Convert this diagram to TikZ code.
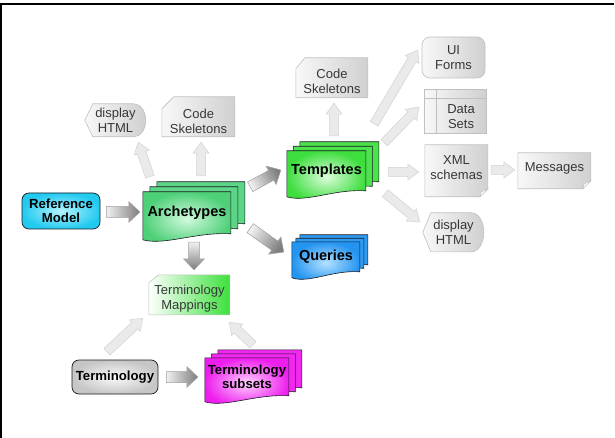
\documentclass[tikz,border=0pt]{standalone}
\usepackage{fontspec}
\setmainfont{Liberation Sans}
\usetikzlibrary{calc}
\pgfdeclarelayer{background}
\pgfsetlayers{background,main}

\definecolor{inkdark}{RGB}{25,25,35}
\definecolor{labelgray}{RGB}{55,55,55}
\definecolor{lightL}{RGB}{248,248,248}
\definecolor{lightR}{RGB}{208,208,208}
\definecolor{lightedge}{RGB}{192,192,192}
\definecolor{larrowfill}{RGB}{234,234,234}
\definecolor{larrowedge}{RGB}{210,210,210}
\definecolor{sarrowtail}{RGB}{240,240,240}
\definecolor{sarrowhead}{RGB}{125,125,125}
\definecolor{sarrowedge}{RGB}{160,160,160}
\definecolor{refin}{RGB}{180,244,255}
\definecolor{refout}{RGB}{35,202,240}
\definecolor{termin}{RGB}{250,250,250}
\definecolor{termout}{RGB}{198,198,198}
\definecolor{archin}{RGB}{210,250,222}
\definecolor{archout}{RGB}{78,208,120}
\definecolor{archback}{RGB}{92,214,134}
\definecolor{tmplin}{RGB}{222,253,222}
\definecolor{tmplout}{RGB}{62,222,62}
\definecolor{tmplback}{RGB}{76,226,76}
\definecolor{qryin}{RGB}{180,225,255}
\definecolor{qryout}{RGB}{35,148,240}
\definecolor{qryback}{RGB}{45,155,242}
\definecolor{tsubin}{RGB}{255,210,255}
\definecolor{tsubout}{RGB}{238,30,238}
\definecolor{tsubback}{RGB}{240,40,240}
\definecolor{tmapR}{RGB}{60,225,60}

\tikzset{
  box/.style 2 args={inner sep=0pt, align=center, minimum width=#1pt, minimum height=#2pt},
  plainlbl/.style={font=\fontsize{13}{15}\selectfont, text=labelgray},
  boldlbl/.style={font=\fontsize{13.2}{14}\selectfont\bfseries, text=black},
  biglbl/.style={font=\fontsize{14.5}{16}\selectfont\bfseries, text=black},
  lightfill/.style={draw=lightedge, line width=0.6pt, left color=lightL, right color=lightR},
  stackedge/.style={draw=inkdark, line width=0.6pt},
  keybox/.style={draw=inkdark, line width=0.7pt, rounded corners=7pt},
  % block arrow between two points: half body width, half head width, head length
  blockarrow/.style n args={3}{to path={
    let \p1=(\tikztostart), \p2=(\tikztotarget),
        \n1={atan2(\y2-\y1,\x2-\x1)},
        \n2={veclen(\x2-\x1,\y2-\y1)-#3}
    in ($(\p1)+(\n1+90:#1)$) -- ($(\p1)+(\n1:\n2)+(\n1+90:#1)$)
    -- ($(\p1)+(\n1:\n2)+(\n1+90:#2)$) -- (\p2)
    -- ($(\p1)+(\n1:\n2)+(\n1-90:#2)$) -- ($(\p1)+(\n1:\n2)+(\n1-90:#1)$)
    -- ($(\p1)+(\n1-90:#1)$) -- cycle}},
  lightarrow/.style={blockarrow={4.5pt}{8pt}{11pt}, draw=larrowedge, fill=larrowfill, line width=0.5pt},
  strongarrow/.style={blockarrow={5.5pt}{10.5pt}{11pt}, draw=sarrowedge, line width=0.5pt,
    top color=sarrowtail, bottom color=sarrowhead, shading angle=#1},
}

% stacked document: node, width, body height, dx, dy, back fill, front colours
\newcommand\docstack[7]{%
  \begin{scope}[shift={(#1.north west)}]
    \foreach \k in {2,1}{%
      \path[stackedge, fill=#6, shift={({\k*#4},{-\k*#5})}]
        (0,0) -- (#2,0) -- (#2,#3) .. controls ({0.6*#2},{#3-2}) and ({0.25*#2},{#3+12}) .. (0,{#3+6}) -- cycle;
    }
    \path[stackedge, #7]
      (0,0) -- (#2,0) -- (#2,#3) .. controls ({0.6*#2},{#3-2}) and ({0.25*#2},{#3+12}) .. (0,{#3+6}) -- cycle;
  \end{scope}}

% card with cut top-left corner: node, width, height, top extension, cut x, cut y, fill style
\newcommand\cutcard[7]{%
  \begin{scope}[shift={(#1.north west)}]
    \path[#7] (#5,-#4) -- (#2,-#4) -- (#2,#3) -- (0,#3) -- (0,{-#4+#6}) -- cycle;
  \end{scope}}

% display shape: node, width, height
\newcommand\displayshape[3]{%
  \begin{scope}[shift={(#1.north west)}]
    \path[lightfill] (0,{#3/2}) -- (8,0) -- ({#2-12},0)
      .. controls ({#2-5.4},0) and (#2,{0.224*#3}) .. (#2,{#3/2})
      .. controls (#2,{0.776*#3}) and ({#2-5.4},#3) .. ({#2-12},#3)
      -- (8,#3) -- cycle;
  \end{scope}}

% document with turned corner: node, width, height, bottom extension
\newcommand\foldeddoc[4]{%
  \begin{scope}[shift={(#1.north west)}]
    \path[lightfill] (0,0) -- (#2,0) -- (#2,{#3+#4-8}) -- ({#2-8},{#3+#4}) -- (0,{#3+#4}) -- cycle;
    \path[draw=lightedge, fill=white, line width=0.5pt]
      (#2,{#3+#4-8}) -- ({#2-6.5},{#3+#4-5}) -- ({#2-8},{#3+#4}) -- cycle;
  \end{scope}}

\begin{document}
\begin{tikzpicture}[x=1pt, y=-1pt]
\useasboundingbox (0,0) rectangle (615,438);

% outer frame
\draw[line width=1.4pt] (1,438) -- (1,4) -- (614,4);

% main items
\node[keybox, boldlbl, box={78}{36}, inner color=refin, outer color=refout] (ref) at (61,211) {Reference\\Model};
\node[keybox, boldlbl, box={86}{34}, inner color=termin, outer color=termout] (term) at (115,377) {Terminology};
\node[biglbl, box={88}{42}] (arch) at (187,213) {Archetypes};
\node[biglbl, box={79}{40}] (tmpl) at (326.5,171) {Templates};
\node[biglbl, box={68}{30}] (qry) at (326,257) {Queries};
\node[boldlbl, box={84}{38}] (tsub) at (247,377) {Terminology\\subsets};

% derived artefacts
\node[plainlbl, box={61}{33}] (dispL) at (115.5,120.5) {display\\HTML};
\node[plainlbl, box={73}{32}] (cskL) at (198.5,121) {Code\\Skeletons};
\node[plainlbl, box={72}{33}] (cskT) at (332,81.5) {Code\\Skeletons};
\node[plainlbl, box={81}{33}] (tmap) at (189.5,298.5) {Terminology\\Mappings};
\node[lightfill, rounded corners=8pt, plainlbl, box={63}{41}] (ui) at (453.5,57.5) {UI\\Forms};
\node[plainlbl, box={50}{35}] (data) at (461,116.5) {Data\\Sets};
\node[plainlbl, box={63}{45}] (xml) at (456.5,167.5) {XML\\schemas};
\node[plainlbl, box={73}{30}] (msg) at (554.5,168) {Messages};
\node[plainlbl, box={61}{39}] (dispR) at (453.5,232.5) {display\\HTML};

\begin{pgfonlayer}{background}
  \docstack{arch}{88}{42}{7}{5}{archback}{inner color=archin, outer color=archout}
  \docstack{tmpl}{79}{40}{6.5}{4.5}{tmplback}{inner color=tmplin, outer color=tmplout}
  \docstack{qry}{68}{30}{4}{3.5}{qryback}{inner color=qryin, outer color=qryout}
  \docstack{tsub}{84}{38}{6.5}{4}{tsubback}{inner color=tsubin, outer color=tsubout}
  \displayshape{dispL}{61}{33}
  \displayshape{dispR}{61}{39}
  \cutcard{cskL}{73}{32}{8}{12}{12}{lightfill}
  \cutcard{cskT}{72}{33}{7}{9}{11}{lightfill}
  \cutcard{tmap}{81}{33}{7}{10}{8}{draw=lightedge, line width=0.6pt, left color=white, right color=tmapR}
  \begin{scope}[shift={(data.north west)}]
    \path[lightfill] (-12,-9) rectangle (50,35);
    \draw[lightedge, line width=0.6pt] (-12,0) -- (50,0) (0,-9) -- (0,35);
  \end{scope}
  \foldeddoc{xml}{63}{45}{7}
  \foldeddoc{msg}{73}{30}{6}
\end{pgfonlayer}

% main flow
\draw[strongarrow=90] ($(ref.east)+(6,1)$) to ($(arch.west)+(-3,-1)$);
\draw[strongarrow=118.7] ($(arch.north east)+(19,-5)$) to ($(tmpl.west)+(-6,-1)$);
\draw[strongarrow=54.8] ($(arch.south east)+(19,-6)$) to ($(qry.west)+(-8,-5)$);
\draw[strongarrow=0] ($(arch.south)+(7,8)$) to ($(tmap.north)+(4.5,-12)$);
\draw[strongarrow=90] ($(term.east)+(8,0)$) to ($(tsub.west)+(-7,0)$);

% generated artefacts
\draw[lightarrow] ($(arch.north west)+(7,-15)$) to ($(dispL.south east)+(-8,5)$);
\draw[lightarrow] ($(arch.north)+(14,-16)$) to ($(cskL.south)+(2.5,5)$);
\draw[lightarrow] ($(tmpl.north)+(7.5,-15)$) to ($(cskT.south)+(2,5)$);
\draw[lightarrow] ($(tmpl.north east)+(8,-27)$) to ($(ui.west)+(-4,-7.5)$);
\draw[lightarrow] ($(tmpl.north east)+(18,-8)$) to ($(data.west)+(-17,-9.5)$);
\draw[lightarrow] ($(tmpl.east)+(22,1)$) to ($(xml.west)+(-6,4.5)$);
\draw[lightarrow] ($(xml.east)+(3,2.5)$) to ($(msg.west)+(-3,2)$);
\draw[lightarrow] ($(tmpl.south east)+(19,2)$) to ($(dispR.west)+(-3,-10.5)$);
\draw[lightarrow] ($(term.north)+(-8,-8)$) to ($(tmap.south west)+(-6,3)$);
\draw[lightarrow] ($(tsub.north)+(6,-13)$) to ($(tmap.south east)+(-1,7)$);
\end{tikzpicture}
\end{document}
